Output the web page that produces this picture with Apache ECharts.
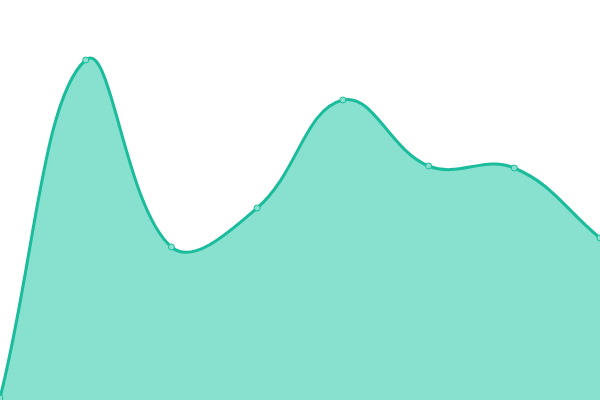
<!DOCTYPE html>
<html><head><meta charset="utf-8">
<script src="https://cdn.jsdelivr.net/npm/echarts@6/dist/echarts.min.js"></script>
<style>html,body{margin:0;padding:0;background:#fff}#c{width:600px;height:400px}</style>
</head><body><div id="c"></div>
<script>
const categories = ['A','B','C','D','E','F','G','H'];
const values = [2, 340, 153, 192, 300, 234, 232, 162];
const tension = 0.4;
const lineColor = '#1abc9c';
const fillColor = '#88e0cf';

const chart = echarts.init(document.getElementById('c'));

function renderCurve(params, api) {
  if (params.dataIndex !== 0) return null;
  const pts = values.map((v, i) => api.coord([i, v]));
  const baseY = api.coord([0, 0])[1];
  const n = pts.length;
  const cps = pts.map((p, i) => {
    const prev = pts[Math.max(i - 1, 0)];
    const next = pts[Math.min(i + 1, n - 1)];
    const d01 = Math.hypot(p[0] - prev[0], p[1] - prev[1]);
    const d12 = Math.hypot(next[0] - p[0], next[1] - p[1]);
    let s01 = d01 / (d01 + d12), s12 = d12 / (d01 + d12);
    if (isNaN(s01)) s01 = 0; if (isNaN(s12)) s12 = 0;
    const fa = tension * s01, fb = tension * s12;
    return {
      prev: [p[0] - fa * (next[0] - prev[0]), p[1] - fa * (next[1] - prev[1])],
      next: [p[0] + fb * (next[0] - prev[0]), p[1] + fb * (next[1] - prev[1])]
    };
  });
  let d = 'M' + pts[0][0] + ' ' + pts[0][1];
  for (let i = 1; i < n; i++) {
    const c1 = cps[i - 1].next, c2 = cps[i].prev, p = pts[i];
    d += ' C' + c1[0] + ' ' + c1[1] + ' ' + c2[0] + ' ' + c2[1] + ' ' + p[0] + ' ' + p[1];
  }
  const area = d + ' L' + pts[n - 1][0] + ' ' + baseY + ' L' + pts[0][0] + ' ' + baseY + ' Z';
  return {
    type: 'group',
    children: [
      {type: 'path', shape: {pathData: area}, style: {fill: fillColor, stroke: null}},
      {type: 'path', shape: {pathData: d}, style: {fill: null, stroke: lineColor, lineWidth: 3}}
    ]
  };
}

chart.setOption({
  animation: false,
  grid: {left: 0, right: 0, top: 0, bottom: 0},
  xAxis: {type: 'category', data: categories, boundaryGap: false, show: false},
  yAxis: {type: 'value', min: 0, max: 400, show: false},
  series: [
    {
      type: 'custom',
      renderItem: renderCurve,
      data: values.map((v, i) => [i, v]),
      encode: {x: 0, y: 1},
      clip: true
    },
    {
      type: 'scatter',
      data: values.map((v, i) => [i, v]),
      symbol: 'circle', symbolSize: 6,
      itemStyle: {color: fillColor, borderColor: lineColor, borderWidth: 1, opacity: 1},
      z: 3
    }
  ]
});
</script></body></html>
